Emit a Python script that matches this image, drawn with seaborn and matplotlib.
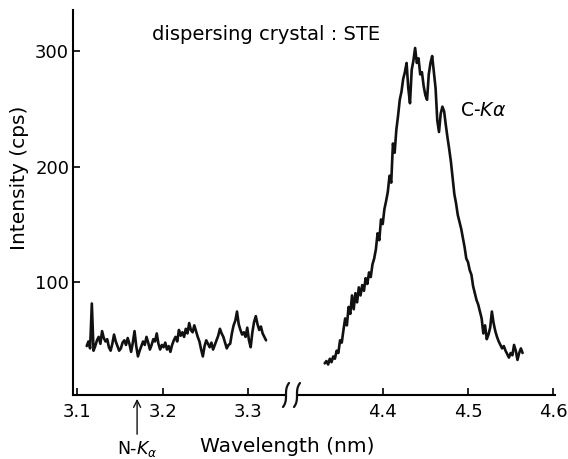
import numpy as np
import pandas as pd
import matplotlib
matplotlib.use("Agg")
import matplotlib.pyplot as plt
import seaborn as sns
from matplotlib.lines import Line2D

# spectrum, one value every 0.002 nm
n_start = 3.111
n_step = 0.002
n_counts = [44, 48, 42, 81, 40, 44, 49, 52, 46, 57, 51, 48, 50, 43, 40, 46, 54, 48, 44, 40,
            42, 47, 49, 45, 51, 46, 39, 47, 57, 44, 35, 40, 44, 48, 45, 52, 47, 41, 45, 50,
            48, 55, 46, 41, 45, 43, 47, 41, 44, 39, 45, 49, 52, 48, 58, 53, 56, 52, 59, 55,
            64, 58, 56, 62, 57, 52, 48, 41, 35, 44, 49, 46, 43, 47, 41, 45, 49, 53, 59, 55,
            52, 47, 42, 45, 46, 55, 62, 66, 74, 63, 58, 54, 56, 52, 60, 49, 43, 56, 65, 70,
            63, 58, 61, 55, 52, 49]

c_start = 4.332
c_step = 0.002
c_counts = [29, 31, 28, 33, 30, 35, 33, 40, 38, 49, 47, 58, 68, 62, 78, 72, 88, 76, 90, 82,
            95, 88, 97, 92, 103, 98, 108, 104, 115, 120, 128, 142, 136, 154, 150, 163, 170, 178, 192, 186,
            220, 212, 232, 244, 258, 265, 276, 282, 290, 268, 255, 284, 292, 303, 290, 294, 280, 282, 270, 262,
            258, 280, 290, 296, 282, 268, 240, 230, 246, 252, 248, 236, 225, 215, 204, 190, 176, 168, 158, 152,
            146, 138, 130, 120, 117, 110, 106, 96, 90, 84, 80, 74, 68, 55, 62, 50, 54, 60, 74, 64,
            57, 52, 48, 45, 42, 44, 40, 37, 34, 38, 36, 45, 40, 32, 38, 42, 38]

left_ticks = [3.1, 3.2, 3.3]
right_ticks = [4.4, 4.5, 4.6]
y_ticks = [100, 200, 300]
nka_pos = 3.17

df_n = pd.DataFrame({'wl': n_start + n_step * np.arange(len(n_counts)), 'cps': n_counts})
df_c = pd.DataFrame({'wl': c_start + c_step * np.arange(len(c_counts)), 'cps': c_counts})

sns.set_style("ticks")
plt.rcParams['font.family'] = ['DejaVu Sans']
plt.rcParams['mathtext.fontset'] = 'dejavusans'
for key in ['text.color', 'axes.labelcolor', 'xtick.color', 'ytick.color', 'axes.edgecolor']:
  plt.rcParams[key] = 'black'

W, H = 568, 459
fig = plt.figure(figsize=(W / 100, H / 100), dpi=100)
bottom = 1 - 395 / H
height = (395 - 10) / H
ax1 = fig.add_axes([73.3 / W, bottom, (285 - 73.3) / W, height])
ax2 = fig.add_axes([298 / W, bottom, (555 - 298) / W, height])

sns.lineplot(data=df_n, x='wl', y='cps', ax=ax1, color='#111111', lw=1.9, estimator=None, sort=False)
sns.lineplot(data=df_c, x='wl', y='cps', ax=ax2, color='#111111', lw=1.9, estimator=None, sort=False)

ax1.set_xlim(3.0953, 3.3432)
ax2.set_xlim(4.3007, 4.602)
for ax in (ax1, ax2):
  ax.set_ylim(1.5, 336)
  ax.set_xlabel('')
  ax.set_ylabel('')
  ax.spines['top'].set_visible(False)
  ax.spines['right'].set_visible(False)
  ax.spines['bottom'].set_linewidth(1.5)
  ax.tick_params(axis='x', direction='in', length=5, width=1.2, pad=6, labelsize=13)
ax1.spines['left'].set_linewidth(1.5)
ax1.set_xticks(left_ticks)
ax1.set_xticklabels([str(t) for t in left_ticks])
ax1.set_yticks(y_ticks)
ax1.tick_params(axis='y', direction='in', length=5, width=1.2, pad=3, labelsize=13)
ax2.set_xticks(right_ticks)
ax2.set_xticklabels([str(t) for t in right_ticks])
ax2.spines['left'].set_visible(False)
ax2.set_yticks([])

# axis break marks
s = np.linspace(-1, 1, 30)
for x0 in (286, 297):
  xs = (x0 + 3 * s ** 3) / W
  ys = 1 - (395 - 12 * s) / H
  fig.add_artist(Line2D(xs, ys, transform=fig.transFigure, color='#111111', lw=1.6))

fig.text(152 / W, 1 - 34 / H, 'dispersing crystal : STE', fontsize=14, va='center', ha='left')
fig.text(460 / W, 1 - 110 / H, 'C-$K\\alpha$', fontsize=13.5, va='center', ha='left')
fig.text(287 / W, 1 - 446 / H, 'Wavelength (nm)', fontsize=14.5, va='center', ha='center')
fig.text(20 / W, 1 - 178 / H, 'Intensity (cps)', fontsize=14.5, va='center', ha='center', rotation=90)

ax1.annotate('N-$K_\\alpha$', xy=(nka_pos, -0.01), xycoords=('data', 'axes fraction'),
             xytext=(nka_pos, -0.14), textcoords=('data', 'axes fraction'),
             ha='center', va='center', fontsize=12.5, annotation_clip=False,
             arrowprops=dict(arrowstyle='->', color='#111111', lw=1.0, shrinkA=1, shrinkB=0))

fig.savefig('out.png', dpi=100)
